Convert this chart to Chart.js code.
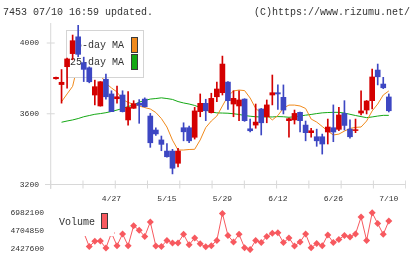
<!DOCTYPE html>
<html><head><meta charset="utf-8">
<script src="https://cdn.jsdelivr.net/npm/chart.js@4/dist/chart.umd.min.js"></script>
<style>
html,body{margin:0;padding:0;background:#fff;}
#wrap{position:relative;width:420px;height:259px;overflow:hidden;background:#fff;font-family:"Liberation Mono","DejaVu Sans Mono",monospace;}
.hdr{position:absolute;top:8px;font-size:10px;line-height:10px;color:#333;white-space:pre;}
#c1{position:absolute;left:0;top:0;}
#c2{position:absolute;left:0;top:203px;}
</style></head><body>
<div id="wrap">
<canvas id="c1" width="420" height="215"></canvas>
<canvas id="c2" width="420" height="56"></canvas>
<div class="hdr" style="left:3px">7453 07/10 16:59 updated.</div>
<div class="hdr" style="left:254px">(C)https://www.rizumu.net/</div>
</div>
<script>
// ---- data (index 0 = 4/13 ... index 60 = 7/10) ----
const opens = [
 3798,3765,3866,3940,4035,3889,3860,3706,3644,3795,
 3712,3685,3706,3565,3631,3660,3683,3587,3508,3452,
 3389,3389,3320,3521,3521,3467,3612,3659,3606,3696,
 3719,3779,3655,3644,3683,3515,3536,3627,3583,3706,
 3719,3693,3561,3565,3608,3536,3493,3470,3470,3497,
 3521,3512,3602,3513,3505,3604,3621,3674,3847,3768,
 3695];
const highs = [
 3808,3850,3915,4045,4100,3920,3865,3790,3782,3825,
 3730,3757,3730,3725,3674,3680,3690,3602,3520,3474,
 3432,3399,3404,3549,3530,3636,3712,3682,3716,3779,
 3926,3782,3730,3730,3685,3570,3655,3630,3678,3819,
 3763,3763,3575,3621,3610,3559,3518,3513,3485,3570,
 3650,3636,3674,3565,3570,3730,3675,3853,3881,3806,
 3712];
const lows = [
 3796,3660,3745,3905,3922,3782,3775,3650,3643,3682,
 3612,3660,3610,3536,3630,3546,3638,3410,3478,3391,
 3355,3260,3300,3447,3436,3457,3583,3561,3604,3668,
 3706,3625,3583,3561,3557,3497,3518,3480,3549,3650,
 3625,3599,3467,3542,3498,3447,3467,3416,3372,3429,
 3442,3504,3508,3462,3493,3593,3599,3627,3763,3742,
 3610];
const closes = [
 3806,3778,3910,4013,3936,3851,3781,3753,3781,3696,
 3612,3696,3612,3636,3657,3648,3640,3436,3486,3427,
 3357,3292,3389,3498,3447,3616,3659,3617,3687,3740,
 3881,3674,3687,3678,3561,3504,3553,3549,3650,3719,
 3712,3621,3572,3602,3561,3493,3504,3447,3429,3525,
 3497,3593,3534,3470,3510,3616,3672,3808,3809,3747,
 3617];
const ma5 = [
 null,3668,3712,3755,3889,3898,3898,3867,3820,3772,
 3746,3723,3681,3664,3654,3644,3635,3627,3607,3573,
 3525,3451,3395,3395,3398,3399,3452,3522,3559,3587,
 3644,3700,3729,3734,3731,3689,3630,3604,3593,3565,
 3590,3632,3649,3649,3644,3630,3570,3553,3528,3502,
 3480,3485,3502,3517,3523,3525,3559,3616,3655,3706,
 3729];
const ma25 = [
 null,3552,3559,3565,3573,3583,3590,3597,3601,3606,
 3613,3621,3630,3641,3649,3666,3675,3683,3686,3690,
 3686,3681,3669,3661,3655,3647,3635,3621,3610,3605,
 3604,3603,3600,3596,3590,3586,3583,3582,3582,3582,
 3584,3583,3580,3583,3587,3592,3596,3601,3605,3607,
 3608,3608,3604,3597,3590,3584,3578,3582,3587,3591,
 3591];
const volumes = [
 5300000,4900000,5700000,6200000,5600000,4500000,2770000,3420000,3450000,2580000,
 4450000,2880000,4330000,2880000,5350000,4780000,4020000,5810000,2850000,2770000,
 3530000,3220000,3220000,4280000,2990000,3830000,3110000,2730000,2880000,3530000,
 6870000,4140000,3340000,4280000,2620000,2390000,3530000,3260000,4020000,4400000,
 4480000,3260000,3830000,2850000,3340000,4330000,2620000,3140000,2880000,4210000,
 3260000,3650000,4140000,3940000,4330000,6410000,3530000,6950000,5620000,4280000,
 5920000];
const dateTickIdx = [10,20,30,40,50,60];
const dateTickLabels = ['4/27','5/15','5/29','6/12','6/26','7/10'];
const priceTicks = [3200,3600,4000];
const volumeTicks = [2427600,4704850,6982100];
const maNames = ['5-day MA','25-day MA'];
const volName = 'Volume';

// ---- styles / layout ----
const FONT = '"Liberation Mono","DejaVu Sans Mono",monospace';
const RED = '#d40000', BLUE = '#3d47c3', AXIS = '#d8d8d8', TXT = '#333';
const ORANGE = '#f08a1c', GREEN = '#14a814', VOLC = '#f7595f';
const XMIN = -1.983, XMAX = 63.1;
const AXIS_X = -0.95, XEND = 63.04;
const YMIN = 3174.6, YMAX = 4113.1;
const VMIN = 1972150, VMAX = 7437550;

Chart.defaults.font.family = FONT;
Chart.defaults.color = TXT;

const idx = closes.map((_, i) => i);
const bodyData = idx.map(i => ({x: i, y: [opens[i], closes[i]]}));
const wickData = idx.map(i => ({x: i, y: [lows[i], highs[i]]}));
const candleColors = idx.map(i => closes[i] >= opens[i] ? RED : BLUE);
const xTickMarks = Array.from({length: 12}, (_, k) => ({x: AXIS_X + k * (XEND - AXIS_X) / 11, y: priceTicks[0]}));
const yTickMarks = priceTicks.map(v => ({x: AXIS_X, y: v}));

const mainLegend = {
  id: 'mainLegend',
  beforeDatasetDraw(chart, args) {
    if (chart.data.datasets[args.index].role !== 'wick') return;
    const ctx = chart.ctx;
    ctx.save();
    ctx.fillStyle = '#fff';
    ctx.fillRect(66, 30, 77, 48);
    ctx.strokeStyle = '#d4d4d4'; ctx.lineWidth = 1;
    ctx.strokeRect(66.5, 30.5, 77, 47);
    ctx.font = '10px ' + FONT; ctx.fillStyle = TXT;
    ctx.textAlign = 'right'; ctx.textBaseline = 'middle';
    ctx.fillText(maNames[0], 124, 45.5);
    ctx.fillText(maNames[1], 124, 62.5);
    [[ORANGE, 37], [GREEN, 54]].forEach(([c, y]) => {
      ctx.fillStyle = c; ctx.fillRect(131, y, 7, 16);
      ctx.strokeStyle = '#3a3a3a'; ctx.strokeRect(131.5, y + 0.5, 6, 15);
    });
    ctx.restore();
  }
};

new Chart(document.getElementById('c1'), {
  type: 'line',
  data: {
    datasets: [
      {role: 'body', type: 'bar', data: bodyData, backgroundColor: candleColors, barThickness: 5, grouped: false, borderWidth: 0, order: 1},
      {role: 'wick', type: 'bar', data: wickData, backgroundColor: candleColors, barThickness: 1, grouped: false, borderWidth: 0, order: 2},
      {type: 'line', data: idx.map(i => ({x: i, y: ma5[i]})), borderColor: ORANGE, borderWidth: 1, pointRadius: 0, order: 5},
      {type: 'line', data: idx.map(i => ({x: i, y: ma25[i]})), borderColor: GREEN, borderWidth: 1, pointRadius: 0, order: 6},
      {type: 'line', data: [{x: AXIS_X, y: YMIN}, {x: AXIS_X, y: YMAX}], borderColor: AXIS, borderWidth: 1, pointRadius: 0, order: 10},
      {type: 'line', data: [{x: XMIN, y: priceTicks[0]}, {x: XEND, y: priceTicks[0]}], borderColor: AXIS, borderWidth: 1, pointRadius: 0, order: 10},
      {type: 'line', data: yTickMarks, showLine: false, pointStyle: 'line', pointRadius: 4, pointBorderColor: AXIS, pointBorderWidth: 1, order: 10},
      {type: 'line', data: xTickMarks, showLine: false, pointStyle: 'line', pointRotation: 90, pointRadius: 4, pointBorderColor: AXIS, pointBorderWidth: 1, order: 10}
    ]
  },
  options: {
    responsive: false, animation: false, events: [],
    layout: {padding: {top: 23, right: 14, left: 0, bottom: 0}},
    plugins: {legend: {display: false}, tooltip: {enabled: false}},
    scales: {
      x: {
        type: 'linear', min: XMIN, max: XMAX, offset: false,
        grid: {display: false}, border: {display: false},
        afterBuildTicks: s => { s.ticks = dateTickIdx.map(v => ({value: v})); },
        afterFit: s => { s.height = 26; },
        ticks: {autoSkip: false, maxRotation: 0, padding: -3, font: {size: 8}, color: TXT,
                callback: (v, i) => dateTickLabels[i]}
      },
      y: {
        type: 'linear', min: YMIN, max: YMAX,
        grid: {display: false, drawTicks: false}, border: {display: false},
        afterBuildTicks: s => { s.ticks = priceTicks.map(v => ({value: v})); },
        afterFit: s => { s.width = 45; },
        ticks: {padding: 6, font: {size: 8}, color: TXT, callback: v => String(v)}
      }
    }
  },
  plugins: [mainLegend]
});

const volLegend = {
  id: 'volLegend',
  afterDatasetsDraw(chart) {
    const ctx = chart.ctx;
    ctx.save();
    ctx.fillStyle = '#fff';
    ctx.fillRect(49, 5, 65, 28);
    ctx.font = '10px ' + FONT; ctx.fillStyle = TXT;
    ctx.textAlign = 'right'; ctx.textBaseline = 'middle';
    ctx.fillText(volName, 95, 19.5);
    ctx.fillStyle = VOLC; ctx.fillRect(101, 10, 7, 16);
    ctx.strokeStyle = '#3a3a3a'; ctx.lineWidth = 1; ctx.strokeRect(101.5, 10.5, 6, 15);
    ctx.restore();
  }
};

new Chart(document.getElementById('c2'), {
  type: 'line',
  data: {
    datasets: [
      {data: idx.map(i => ({x: i, y: volumes[i]})), borderColor: VOLC, borderWidth: 1,
       pointStyle: 'rectRot', pointRadius: 3.5, pointBackgroundColor: VOLC, pointBorderWidth: 0}
    ]
  },
  options: {
    responsive: false, animation: false, events: [],
    layout: {padding: {top: 2, right: 14, left: 0, bottom: 6}},
    plugins: {legend: {display: false}, tooltip: {enabled: false}},
    scales: {
      x: {type: 'linear', min: XMIN, max: XMAX, offset: false, display: false},
      y: {
        type: 'linear', min: VMIN, max: VMAX,
        grid: {display: false, drawTicks: false}, border: {display: false},
        afterBuildTicks: s => { s.ticks = volumeTicks.map(v => ({value: v})); },
        afterFit: s => { s.width = 45; },
        ticks: {padding: 1, font: {size: 8}, color: TXT, callback: v => String(v)}
      }
    }
  },
  plugins: [volLegend]
});
</script>
</body></html>
